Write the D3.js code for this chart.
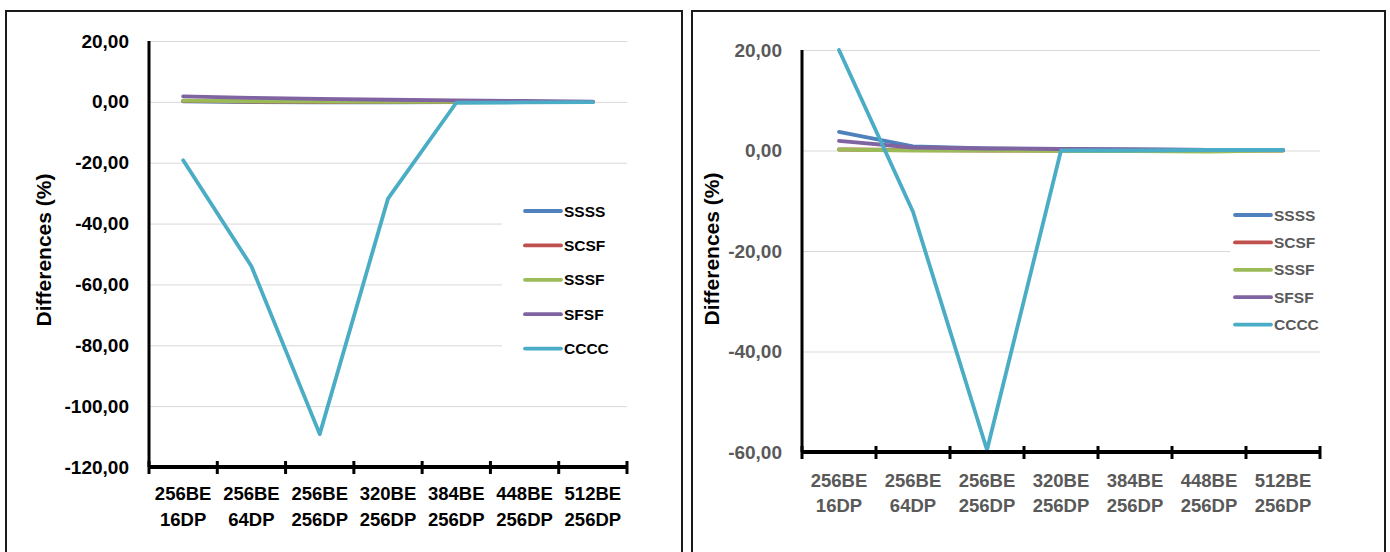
<!DOCTYPE html>
<html>
<head>
<meta charset="utf-8">
<script src="https://cdn.jsdelivr.net/npm/d3@7"></script>
<style>
  body { margin: 0; background: #fff; }
  svg { display: block; }
  text { font-family: "Liberation Sans", Arial, sans-serif; font-weight: bold; }
</style>
</head>
<body>
<div id="chart"></div>
<script>
// categories (two lines each)
var catTop = ["256BE", "256BE", "256BE", "320BE", "384BE", "448BE", "512BE"];
var catBottom = ["16DP", "64DP", "256DP", "256DP", "256DP", "256DP", "256DP"];
var seriesNames = ["SSSS", "SCSF", "SSSF", "SFSF", "CCCC"];
var seriesColors = ["#4F81BD", "#C0504D", "#9BBB59", "#8064A2", "#4BACC6"];

// left chart values
var leftSSSS = [0.2, -0.1, -0.2, -0.2, -0.1, 0.0, 0.0];
var leftSCSF = [0.3, 0.1, 0.0, 0.0, 0.0, 0.0, 0.0];
var leftSSSF = [0.4, 0.2, 0.1, 0.0, 0.0, 0.0, 0.0];
var leftSFSF = [1.8, 1.3, 1.0, 0.7, 0.5, 0.3, 0.1];
var leftCCCC = [-19.2, -54.0, -109.2, -31.8, -0.3, -0.2, -0.1];
var leftTicks = [20, 0, -20, -40, -60, -80, -100, -120];

// right chart values
var rightSSSS = [3.7, 0.8, 0.4, 0.3, 0.2, 0.1, 0.1];
var rightSCSF = [0.2, 0.1, 0.0, 0.0, 0.0, 0.0, 0.0];
var rightSSSF = [0.2, 0.0, 0.0, -0.1, -0.1, -0.2, 0.0];
var rightSFSF = [1.9, 0.6, 0.4, 0.3, 0.2, 0.1, 0.1];
var rightCCCC = [20.0, -12.2, -59.6, 0.0, 0.0, 0.1, 0.1];
var rightTicks = [20, 0, -20, -40, -60];

var svg = d3.select("#chart").append("svg")
  .attr("width", 1390)
  .attr("height", 552);

var fmt = function(v) { return d3.format(".2f")(v).replace(".", ",").replace("−", "-"); };

function drawChart(opt) {
  var g = svg.append("g");
  // outer frame
  g.append("rect")
    .attr("x", opt.frame[0]).attr("y", opt.frame[1])
    .attr("width", opt.frame[2]).attr("height", opt.frame[3])
    .attr("fill", "#fff").attr("stroke", "#1a1a1a").attr("stroke-width", 2);

  var x = d3.scaleBand().domain(d3.range(catTop.length)).range([opt.left, opt.right]);
  var y = d3.scaleLinear().domain(d3.extent(opt.ticks)).range([opt.bottom, opt.top]);

  // gridlines
  g.append("g")
    .attr("transform", "translate(" + opt.left + ",0)")
    .call(d3.axisLeft(y).tickValues(opt.ticks).tickSize(-(opt.right - opt.left)).tickFormat(""))
    .call(function(a) { a.select(".domain").remove(); })
    .call(function(a) { a.selectAll(".tick line").attr("stroke", "#d9d9d9").attr("stroke-width", 1); });

  // y tick labels
  g.append("g")
    .attr("transform", "translate(" + opt.left + ",0)")
    .call(d3.axisLeft(y).tickValues(opt.ticks).tickSize(0).tickPadding(20).tickFormat(fmt))
    .call(function(a) { a.select(".domain").remove(); })
    .call(function(a) {
      a.selectAll(".tick text")
        .attr("fill", opt.textColor)
        .style("font-size", "19px")
        .style("font-family", "'Liberation Sans', Arial, sans-serif")
        .style("font-weight", "bold");
    });

  // legend background (covers gridlines)
  g.append("rect")
    .attr("x", opt.legendBox[0]).attr("y", opt.legendBox[1])
    .attr("width", opt.legendBox[2]).attr("height", opt.legendBox[3])
    .attr("fill", "#fff");

  // series lines
  var line = d3.line()
    .x(function(d, i) { return x(i) + x.bandwidth() / 2; })
    .y(function(d) { return y(d); });
  opt.series.forEach(function(s, k) {
    g.append("path")
      .datum(s)
      .attr("d", line)
      .attr("fill", "none")
      .attr("stroke", seriesColors[k])
      .attr("stroke-width", 3.8)
      .attr("stroke-linejoin", "round")
      .attr("stroke-linecap", "round");
  });

  // y axis line
  g.append("line")
    .attr("x1", opt.left).attr("x2", opt.left)
    .attr("y1", y(opt.ticks[0])).attr("y2", opt.bottom)
    .attr("stroke", "#000").attr("stroke-width", 3);

  // x axis line + cross ticks at category boundaries
  var bounds = x.domain().map(function(d) { return x(d); }).concat([opt.right]);
  g.append("line")
    .attr("x1", opt.left).attr("x2", opt.right)
    .attr("y1", opt.bottom).attr("y2", opt.bottom)
    .attr("stroke", "#000").attr("stroke-width", 4);
  g.selectAll(".xt").data(bounds).enter().append("line")
    .attr("x1", function(d) { return d; }).attr("x2", function(d) { return d; })
    .attr("y1", opt.bottom - 6).attr("y2", opt.bottom + 7)
    .attr("stroke", "#000").attr("stroke-width", 3);

  // x labels
  var lab = g.selectAll(".xl").data(catTop).enter().append("text")
    .attr("text-anchor", "middle")
    .attr("fill", opt.textColor)
    .style("font-size", "18.5px");
  lab.append("tspan")
    .attr("x", function(d, i) { return x(i) + x.bandwidth() / 2; })
    .attr("y", opt.labelY[0])
    .text(function(d) { return d; });
  lab.append("tspan")
    .attr("x", function(d, i) { return x(i) + x.bandwidth() / 2; })
    .attr("y", opt.labelY[1])
    .text(function(d, i) { return catBottom[i]; });

  // y title
  g.append("text")
    .attr("transform", "translate(" + opt.titleX + "," + opt.titleY + ") rotate(-90)")
    .attr("text-anchor", "middle")
    .attr("fill", "#000")
    .style("font-size", "21px")
    .text("Differences (%)");

  // legend
  var leg = g.selectAll(".lg").data(seriesNames).enter().append("g")
    .attr("transform", function(d, i) { return "translate(" + opt.legendX + "," + (opt.legendY + i * opt.legendStep) + ")"; });
  leg.append("line")
    .attr("x1", 0).attr("x2", 36)
    .attr("stroke", function(d, i) { return seriesColors[i]; })
    .attr("stroke-width", 3.8)
    .attr("stroke-linecap", "round");
  leg.append("text")
    .attr("x", 39).attr("dy", "0.36em")
    .attr("fill", opt.textColor)
    .style("font-size", "15.5px")
    .text(function(d) { return d; });
}

drawChart({
  frame: [6, 11, 676, 560],
  left: 149, right: 627, top: 41, bottom: 467,
  ticks: leftTicks,
  series: [leftSSSS, leftSCSF, leftSSSF, leftSFSF, leftCCCC],
  textColor: "#000",
  labelY: [500, 526],
  titleX: 51, titleY: 250,
  legendBox: [502, 190, 128, 178],
  legendX: 525, legendY: 211, legendStep: 34.4
});

drawChart({
  frame: [692, 11, 693, 560],
  left: 802, right: 1320, top: 50, bottom: 452,
  ticks: rightTicks,
  series: [rightSSSS, rightSCSF, rightSSSF, rightSFSF, rightCCCC],
  textColor: "#595959",
  labelY: [487, 512],
  titleX: 719, titleY: 249,
  legendBox: [1230, 200, 92, 140],
  legendX: 1235, legendY: 215, legendStep: 27.4
});
</script>
</body>
</html>
